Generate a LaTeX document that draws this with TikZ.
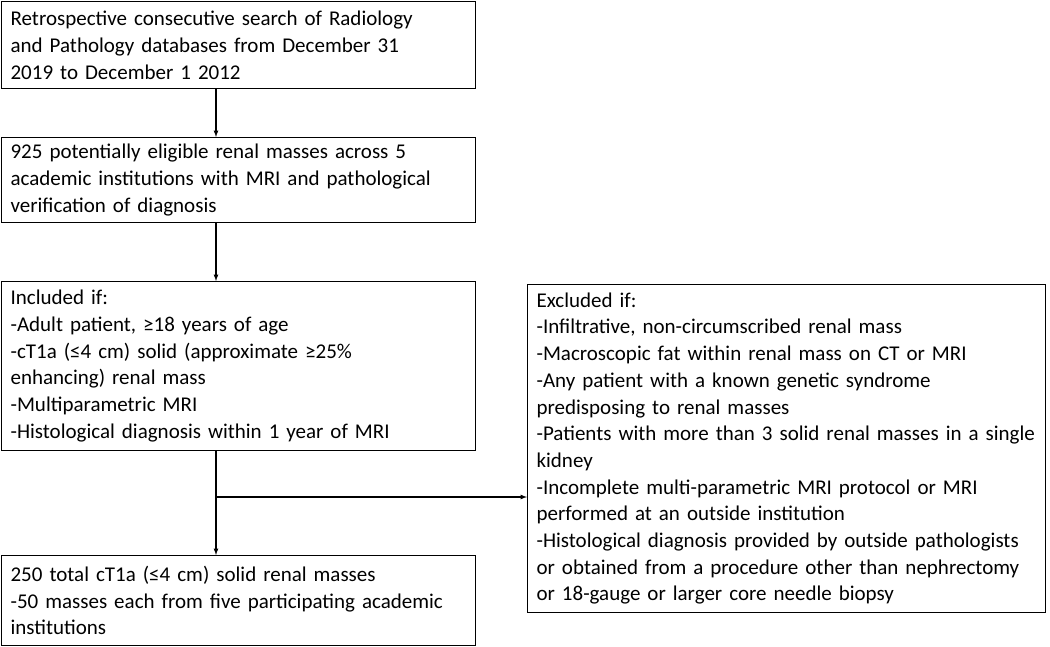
\documentclass[tikz,border=0pt]{standalone}
\usepackage{fontspec}
\setmainfont{Carlito}
\usepackage{tikz}
\usetikzlibrary{calc}
\hyphenpenalty=10000

\begin{document}
\begin{tikzpicture}[x=1pt,y=-1pt]
  \tikzstyle{box}=[draw,line width=1.2pt,anchor=north west,inner xsep=9pt,inner ysep=0pt,
    align=left,font=\fontsize{21}{26.7}\selectfont]
  \tikzstyle{flow}=[line width=1.2pt,-latex]
  \useasboundingbox (0,0) rectangle (1050,646);
  % left column
  \node (search) at (1,1) [box,text width=456pt,minimum height=87pt] {Retrospective consecutive search of Radiology\\and Pathology databases from December 31\\2019 to December 1 2012};
  \node (eligible) at (1,137) [box,text width=456pt,minimum height=85pt] {925 potentially eligible renal masses across 5\\academic institutions with MRI and pathological\\verification of diagnosis};
  \node (incl) at (1,281) [box,text width=456pt,minimum height=169pt] {Included if:\\-Adult patient, ≥18 years of age\\-cT1a (≤4 cm) solid (approximate ≥25\%\\enhancing) renal mass\\-Multiparametric MRI\\-Histological diagnosis within 1 year of MRI};
  \node (final) at (1,555) [box,text width=456pt,minimum height=90pt] {250 total cT1a (≤4 cm) solid renal masses\\-50 masses each from five participating academic\\institutions};
  % exclusions
  \node (excl) at (527,284) [box,text width=500pt,minimum height=328pt] {Excluded if:\\-Infiltrative, non-circumscribed renal mass\\-Macroscopic fat within renal mass on CT or MRI\\-Any patient with a known genetic syndrome\\predisposing to renal masses\\-Patients with more than 3 solid renal masses in a single\\kidney\\-Incomplete multi-parametric MRI protocol or MRI\\performed at an outside institution\\-Histological diagnosis provided by outside pathologists\\or obtained from a procedure other than nephrectomy\\or 18-gauge or larger core needle biopsy};
  \coordinate (ax) at (216,0);
  \coordinate (split) at (216,497);
  \draw[flow] (search.south -| ax) -- (eligible.north -| ax);
  \draw[flow] (eligible.south -| ax) -- (incl.north -| ax);
  \draw[flow] (incl.south -| ax) -- (final.north -| ax);
  \draw[flow] (split) -- (excl.west |- split);
\end{tikzpicture}
\end{document}
